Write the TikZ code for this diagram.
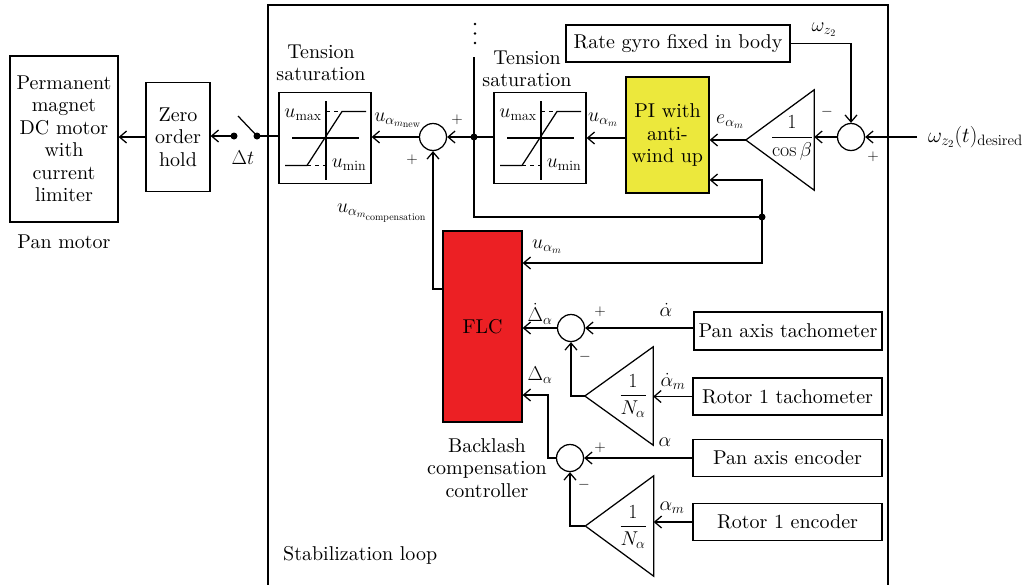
\RequirePackage{fix-cm}
\documentclass[tikz,border=0pt]{standalone}
\usepackage{amsmath}
\usetikzlibrary{arrows.meta}
% text face: the 10pt design of Latin Modern, scaled freely
\DeclareFontFamily{TU}{lmten}{}
\DeclareFontShape{TU}{lmten}{m}{n}{<-> "[lmroman10-regular]:mapping=tex-text;"}{}
\renewcommand{\rmdefault}{lmten}
\definecolor{piyellow}{RGB}{236,232,60}
\definecolor{flcred}{RGB}{236,32,36}

\tikzset{
  satcurve/.pic={
    \draw[wire] (-33,0) -- (34,0);
    \draw[wire] (1,-37) -- (1,42);
    \draw[wire] (-40,27.5) -- (-18,27.5) -- (17,-26.5) -- (41,-26.5);
    \draw[wire, dash pattern=on 4pt off 4pt] (1,-26.5) -- (17,-26.5);
    \draw[wire, dash pattern=on 4pt off 4pt] (-18,27.5) -- (1,27.5);
    \node (-umax) at (-22,-23) {$u_{\max}$};
    \node (-umin) at (24,27) {$u_{\min}$};
  }
}

\begin{document}
\begin{tikzpicture}[x=1pt,y=-1pt,
  every node/.style={font=\fontsize{20}{22.5}\selectfont, inner sep=0pt},
  wire/.style={line width=1.25pt},
  arr/.style={wire, -{Straight Barb[length=7pt,width=12pt]}},
  block/.style={draw, line width=1.25pt, fill=white, align=center},
  sumnode/.style={draw, circle, line width=1.25pt, minimum size=27pt},
  dot/.style={circle, fill=black, minimum size=7pt},
  sign/.style={font=\fontsize{15}{18}\selectfont},
  tribox/.style={minimum width=68pt, minimum height=100pt}]

\useasboundingbox (0,0) rectangle (1032,584);

% stabilization loop frame
\draw[line width=1.4pt] (268,600) -- (268,5) -- (888,5) -- (888,600);
\node[anchor=west] (stab) at (283,555) {Stabilization loop};

% pan motor and zero order hold
\node[block, minimum width=108pt, minimum height=166pt] (motor) at (64,139)
  {Permanent\\magnet\\DC motor\\with\\current\\limiter};
\node (panlbl) at (64,242) {Pan motor};
\node[block, minimum width=64pt, minimum height=109pt] (zoh) at (178,137) {Zero\\order\\hold};

% sampling switch
\node[dot] (swl) at (234,136) {};
\node[dot] (swr) at (257,136) {};
\coordinate (blade) at (238,116);
\draw[wire] (blade) -- (swr.center);
\node (dt) at (243,158) {$\Delta t$};

% tension saturation blocks
\node[block, minimum width=92pt, minimum height=91pt] (sat1) at (325,138) {};
\pic (s1) at (sat1.center) {satcurve};
\node[align=center] (ts1) at (321,63) {Tension\\saturation};
\node[block, minimum width=92pt, minimum height=91pt] (sat2) at (540,138) {};
\pic (s2) at (sat2.center) {satcurve};
\node[align=center] (ts2) at (527,69) {Tension\\saturation};

% summing junction of the compensation
\node[sumnode] (sum1) at (433,137) {};
\node[sign] (p1a) at (457,120) {$+$};
\node[sign] (p1b) at (412,160) {$+$};
\node (unew) at (398,120) {$u_{\alpha_{m_{\mathrm{new}}}}$};
\node (ucomp) at (382,213) {$u_{\alpha_{m_{\mathrm{compensation}}}}$};

% PI controller and rate loop input
\node[block, fill=piyellow, minimum width=83pt, minimum height=116pt] (PI) at (667.5,135) {PI with\\anti-\\wind up};
\node (uam1) at (603,120) {$u_{\alpha_m}$};
\node (eam) at (730,122) {$e_{\alpha_m}$};

\node[tribox] (tri0) at (780,140) {};
\draw[wire] (tri0.north east) -- (tri0.south east) -- (tri0.west) -- cycle;
\node (f0) at (792,138) {$\dfrac{1}{\cos\beta}$};

\node[sumnode] (sum2) at (851,137) {};
\node[sign] (m2) at (827,112) {$-$};
\node[sign] (p2) at (873,157) {$+$};

\node[block, minimum width=224pt, minimum height=37pt] (gyro) at (678,43.5) {Rate gyro fixed in body};
\node (wz) at (824,30) {$\omega_{z_2}$};
\coordinate (win) at (917,137);
\node[anchor=west, font=\fontsize{21.5}{24}\selectfont] (wdes) at (928,137) {$\omega_{z_2}(t)_{\mathrm{desired}}$};

% fuzzy backlash compensation
\node[block, fill=flcred, minimum width=79pt, minimum height=191pt] (FLC) at (482.5,326.5) {FLC};
\node[align=center] (bcc) at (487,468) {Backlash\\compensation\\controller};
\node (uam2) at (547,247) {$u_{\alpha_m}$};

\node[sumnode] (sum3) at (571,328) {};
\node[sign] (p3) at (600,312) {$+$};
\node[sign] (m3) at (585,357) {$-$};
\node (ddel) at (540,314) {$\dot{\Delta}_\alpha$};
\node (dal) at (666,310) {$\dot{\alpha}$};
\node[block, minimum width=188pt, minimum height=38pt] (pantach) at (788,331) {Pan axis tachometer};

\node[tribox, minimum height=98pt] (tri1) at (619,396) {};
\draw[wire] (tri1.north east) -- (tri1.south east) -- (tri1.west) -- cycle;
\node (f1) at (633,396) {$\dfrac{1}{N_\alpha}$};
\node (dalm) at (673,381) {$\dot{\alpha}_m$};
\node[block, minimum width=189pt, minimum height=37pt] (rottach) at (787.5,396.5) {Rotor 1 tachometer};

\node[sumnode] (sum4) at (570,458) {};
\node[sign] (p4) at (600,448) {$+$};
\node[sign] (m4) at (584,485) {$-$};
\node (del) at (540,375) {$\Delta_\alpha$};
\node (al) at (665,442) {$\alpha$};
\node[block, minimum width=189pt, minimum height=37pt] (panenc) at (787.5,458) {Pan axis encoder};

\node[tribox] (tri2) at (619.5,526) {};
\draw[wire] (tri2.north east) -- (tri2.south east) -- (tri2.west) -- cycle;
\node (f2) at (633,527) {$\dfrac{1}{N_\alpha}$};
\node (alm) at (672,508) {$\alpha_m$};
\node[block, minimum width=189pt, minimum height=37pt] (rotenc) at (787.5,522) {Rotor 1 encoder};

% branch points
\node[dot] (j1) at (474,137) {};
\node[dot] (j2) at (762,217) {};
\coordinate (jup) at (474,57);
\coordinate (jdown) at (474,217);
\coordinate (fbturn) at (762,180);
\coordinate (flcturn) at (762,263);
\coordinate (cturn) at (433,289);
\coordinate (dturn) at (548,395);
\fill (475,24) circle (1.4pt) (475,33.5) circle (1.4pt) (475,43) circle (1.4pt);

% forward path
\draw[arr] (zoh.west) -- (zoh.west -| motor.east);
\draw[arr] (swl.center) -- (swl.center -| zoh.east);
\draw[wire] (swr.center) -- (swr.center -| sat1.west);
\draw[arr] (sum1.west) -- (sum1.west -| sat1.east);
\draw[arr] (sat2.west |- sum1) -- (sum1.east);
\draw[arr] (PI.west |- sat2) -- (sat2.east);
\draw[arr] (tri0.west) -- (tri0.west -| PI.east);
\draw[arr] (sum2.west) -- (sum2.west -| tri0.east);
\draw[arr] (win) -- (sum2.east);
\draw[arr] (gyro.east) -| (sum2.north);

% u_alpha_m distribution
\draw[wire] (jup) -- (j1.center) -- (jdown) -- (j2.center);
\draw[arr] (j2.center) -- (fbturn) -- (fbturn -| PI.east);
\draw[arr] (j2.center) -- (flcturn) -- (flcturn -| FLC.east);
\draw[arr] (cturn -| FLC.west) -- (cturn) -- (sum1.south);

% backlash measurement
\draw[arr] (pantach.west |- sum3) -- (sum3.east);
\draw[arr] (sum3.west) -- (sum3.west -| FLC.east);
\draw[arr] (rottach.west) -- (rottach.west -| tri1.east);
\draw[arr] (tri1.west) -| (sum3.south);
\draw[arr] (panenc.west |- sum4) -- (sum4.east);
\draw[arr] (sum4.west) -| (dturn) -- (dturn -| FLC.east);
\draw[arr] (rotenc.west) -- (rotenc.west -| tri2.east);
\draw[arr] (tri2.west) -| (sum4.south);
\end{tikzpicture}
\end{document}
